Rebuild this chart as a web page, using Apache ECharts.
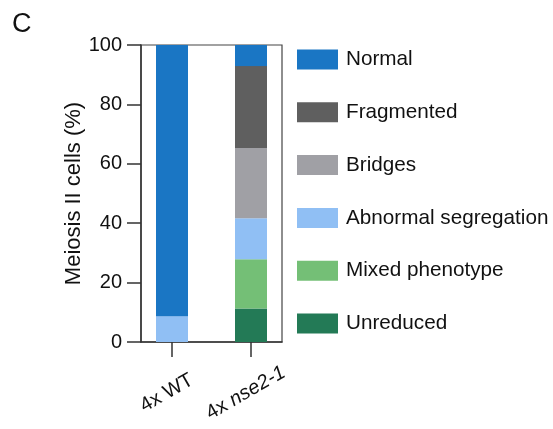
<!DOCTYPE html>
<html><head><meta charset="utf-8">
<script src="https://cdn.jsdelivr.net/npm/echarts@6/dist/echarts.min.js"></script>
<style>html,body{margin:0;padding:0;background:#fff}#c{width:553px;height:429px}</style>
</head><body><div id="c"></div>
<script>
const categories = ['4x WT', '4x nse2-1'];
const seriesNames = ['Unreduced', 'Mixed phenotype', 'Abnormal segregation', 'Bridges', 'Fragmented', 'Normal'];
const unreduced = [0, 11.3];
const mixed = [0, 16.6];
const abnormal = [8.7, 13.8];
const bridges = [0, 23.6];
const fragmented = [0, 27.6];
const normal = [91.3, 7.1];
const yTicks = [0, 20, 40, 60, 80, 100];
const colors = ['#237a56', '#74bf76', '#90bff4', '#a0a0a5', '#5f5f5f', '#1a76c4'];

const values = [unreduced, mixed, abnormal, bridges, fragmented, normal];
const font = 'Liberation Sans, Arial, Helvetica, sans-serif';
const ink = '#111';
const lineCol = '#333';

const chart = echarts.init(document.getElementById('c'));
chart.setOption({
  animation: false,
  textStyle: { fontFamily: font },
  title: { text: 'C', left: 7, top: 6, textStyle: { fontSize: 27, fontWeight: 'normal', color: ink, fontFamily: font } },
  grid: [
    { left: 141, right: 271, top: 45, bottom: 87, show: true, borderColor: '#444', borderWidth: 1.2, backgroundColor: 'transparent' },
    { left: 132.5, right: 262.5, top: 45, bottom: 87 }
  ],
  legend: {
    orient: 'vertical', left: 292, top: 44, itemWidth: 41, itemHeight: 20, itemGap: 31.8,
    icon: 'rect',
    data: seriesNames.slice().reverse(),
    textStyle: { fontSize: 20.7, color: ink, padding: [0, 0, 0, 3], fontFamily: font }
  },
  xAxis: [
    {
      gridIndex: 0, type: 'value', min: 0, max: 1,
      splitLine: { show: false },
      axisLine: { show: true, lineStyle: { color: lineCol, width: 1.5 } },
      axisTick: { show: false }, axisLabel: { show: false }
    },
    {
      gridIndex: 1, type: 'category', data: categories,
      axisLine: { show: false },
      axisTick: { show: true, alignWithLabel: true, length: 15, lineStyle: { color: lineCol, width: 1.5 } },
      axisLabel: {
        rotate: 30, align: 'center', verticalAlign: 'middle', margin: 48,
        fontSize: 20, color: ink, padding: [0, 12, 0, 0],
        formatter: v => v.replace('nse2-1', '{i|nse2-1}'),
        rich: { i: { fontStyle: 'italic', fontSize: 20, color: ink } }
      }
    }
  ],
  yAxis: [
    {
      gridIndex: 0, type: 'value', min: 0, max: 100, interval: 20,
      name: 'Meiosis II cells (%)', nameLocation: 'middle', nameGap: 53,
      nameTextStyle: { fontSize: 22, color: ink },
      splitLine: { show: false },
      axisLine: { show: true, lineStyle: { color: lineCol, width: 1.5 } },
      axisTick: { show: true, length: 14, lineStyle: { color: lineCol, width: 1.5 } },
      axisLabel: { fontSize: 20, color: ink, margin: 19, customValues: yTicks }
    },
    {
      gridIndex: 1, type: 'value', min: 0, max: 100, show: false
    }
  ],
  series: seriesNames.map((n, k) => ({
    name: n, type: 'bar', stack: 'all', barWidth: 32,
    xAxisIndex: 1, yAxisIndex: 1,
    itemStyle: { color: colors[k] },
    data: values[k]
  }))
});
</script></body></html>
